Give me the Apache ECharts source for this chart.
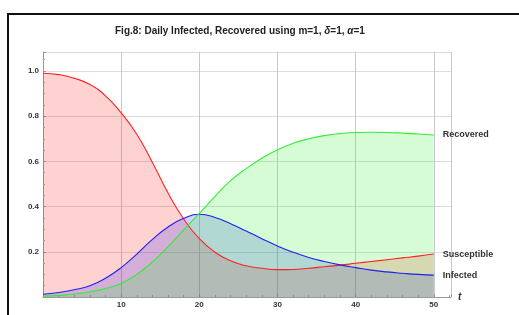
<!DOCTYPE html>
<html>
<head>
<meta charset="utf-8">
<script src="https://cdn.jsdelivr.net/npm/echarts@6/dist/echarts.min.js"></script>
<style>
html, body { margin: 0; padding: 0; background: #fff; }
#chart { width: 519px; height: 315px; }
</style>
</head>
<body>
<div id="chart"></div>
<script>
// time points (days)
var days = [0, 2, 4, 6, 8, 10, 12, 14, 16, 18, 20, 22, 24, 26, 28, 30, 32, 34, 36, 38, 40, 42, 44, 46, 48, 50];
var susceptible = [0.99, 0.984, 0.968, 0.94, 0.89, 0.815, 0.72, 0.595, 0.46, 0.345, 0.258, 0.198, 0.16, 0.138, 0.127, 0.121, 0.122, 0.127, 0.134, 0.141, 0.149, 0.157, 0.165, 0.173, 0.181, 0.19];
var infected = [0.012, 0.02, 0.032, 0.05, 0.083, 0.13, 0.19, 0.255, 0.31, 0.348, 0.366, 0.352, 0.324, 0.292, 0.258, 0.226, 0.198, 0.175, 0.157, 0.142, 0.13, 0.119, 0.111, 0.105, 0.1, 0.097];
var recovered = [0.003, 0.007, 0.013, 0.023, 0.038, 0.06, 0.1, 0.155, 0.222, 0.297, 0.37, 0.445, 0.515, 0.568, 0.614, 0.652, 0.68, 0.7, 0.714, 0.723, 0.728, 0.729, 0.728, 0.725, 0.721, 0.717];

var font = "Liberation Sans, Arial, sans-serif";

function pairs(ys) {
	return days.map(function (d, i) {
		return [d, ys[i]];
	});
}

function line(name, data, color) {
	return {
		name: name,
		type: "line",
		data: pairs(data),
		smooth: 0.5,
		symbol: "none",
		lineStyle: { color: color, width: 1.1 },
		itemStyle: { color: color },
		areaStyle: { color: color, opacity: 0.2 },
		endLabel: {
			show: true,
			formatter: "{a}",
			distance: 9,
			color: "#333",
			fontFamily: font,
			fontWeight: "bold",
			fontSize: 9
		},
		silent: true,
		z: 3
	};
}

var myChart = echarts.init(document.getElementById("chart"), null, { renderer: "canvas" });
var option = {
	animation: false,
	backgroundColor: "#fff",
	title: {
		text: "Fig.8: Daily Infected, Recovered using m=1, {i|δ}=1, {i|α}=1",
		left: 110,
		top: 21,
		textStyle: {
			color: "#222",
			fontFamily: font,
			fontWeight: "bold",
			fontSize: 10,
			rich: {
				i: { fontStyle: "italic", fontWeight: "bold", fontSize: 10, fontFamily: font, color: "#222" }
			}
		}
	},
	// frame around the figure
	graphic: [
		{
			type: "rect",
			shape: { x: 8, y: 14, width: 600, height: 400 },
			style: { fill: "none", stroke: "#111", lineWidth: 2 },
			silent: true
		}
	],
	grid: {
		left: 43,
		right: 68,
		top: 52,
		bottom: 18,
		outerBoundsMode: "none"
	},
	xAxis: {
		type: "value",
		min: 0,
		max: 52.2,
		interval: 10,
		name: "t",
		nameLocation: "end",
		nameGap: 7,
		nameTextStyle: { color: "#333", fontFamily: font, fontStyle: "italic", fontWeight: "bold", fontSize: 10 },
		axisLine: { lineStyle: { color: "#999", width: 1 } },
		axisTick: { show: true, inside: true, length: 3, lineStyle: { color: "#999" } },
		minorTick: { show: true, splitNumber: 5, length: 2, lineStyle: { color: "#aaa" } },
		axisLabel: {
			color: "#333",
			fontFamily: font,
			fontWeight: "bold",
			fontSize: 8,
			margin: 4,
			showMaxLabel: false,
			formatter: function (v) {
				return v === 0 ? "" : String(v);
			}
		},
		splitLine: { show: true, lineStyle: { color: "#c8c8c8", width: 1 } }
	},
	yAxis: {
		type: "value",
		min: 0,
		max: 1.084,
		interval: 0.2,
		axisLine: { show: true, lineStyle: { color: "#999", width: 1 } },
		axisTick: { show: true, inside: true, length: 3, lineStyle: { color: "#999" } },
		minorTick: { show: true, splitNumber: 4, length: 2, lineStyle: { color: "#aaa" } },
		axisLabel: {
			color: "#333",
			fontFamily: font,
			fontWeight: "bold",
			fontSize: 8,
			margin: 4,
			showMaxLabel: false,
			formatter: function (v) {
				return v === 0 ? "" : v.toFixed(1);
			}
		},
		splitLine: { show: true, lineStyle: { color: "#dcdcdc", width: 1 } }
	},
	series: [
		line("Susceptible", susceptible, "#ff2020"),
		line("Infected", infected, "#2020ee"),
		line("Recovered", recovered, "#33ee33")
	]
};
myChart.setOption(option);
window.addEventListener("resize", myChart.resize);
</script>
</body>
</html>
